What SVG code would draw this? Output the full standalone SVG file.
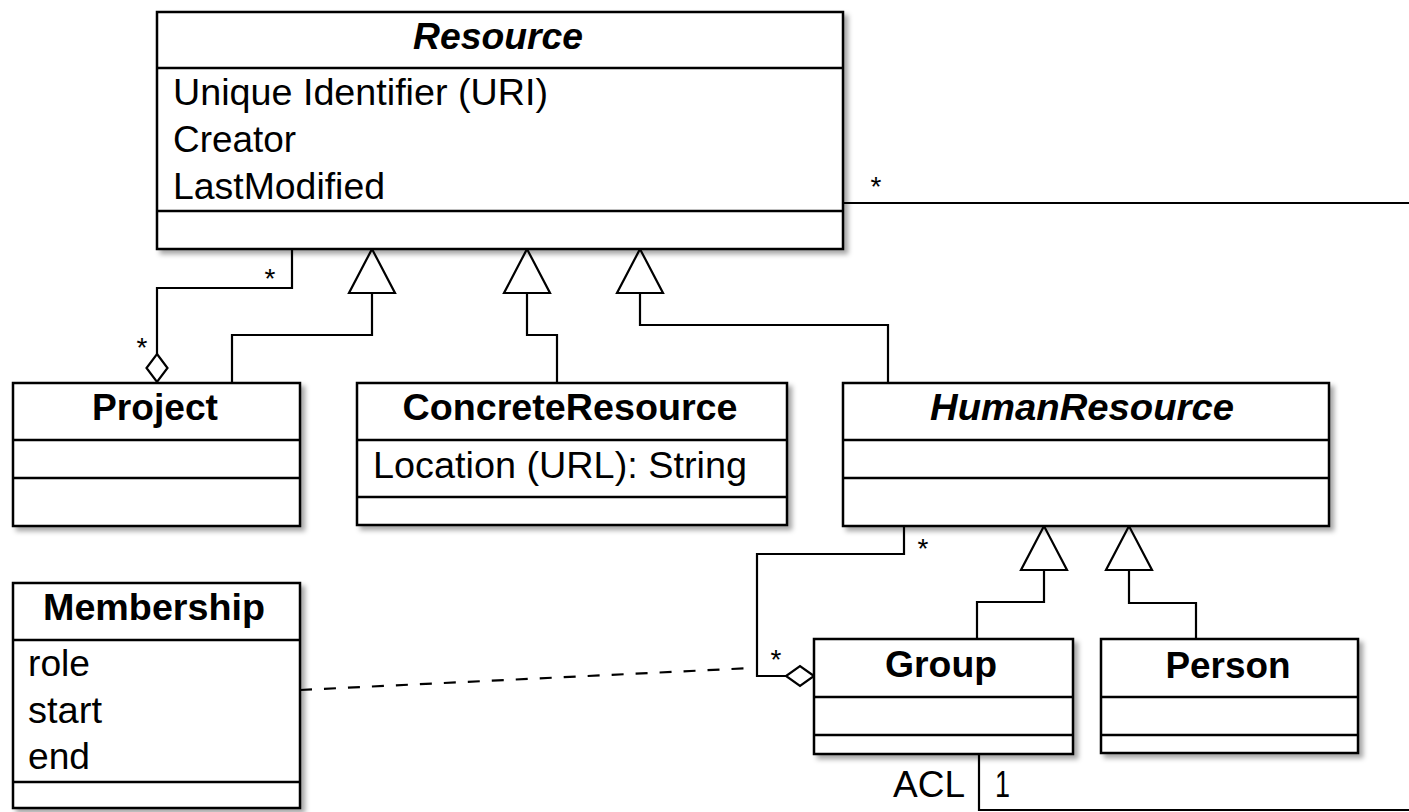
<svg xmlns="http://www.w3.org/2000/svg" width="1409" height="812" viewBox="0 0 1409 812">
<style>
.box{fill:#fff;stroke:#000;stroke-width:2.5}
.div{stroke:#000;stroke-width:2.5;fill:none}
.ln{fill:none;stroke:#000;stroke-width:2.2}
.tri{fill:#fff;stroke:#000;stroke-width:2.2;stroke-linejoin:miter}
.t{font-family:"Liberation Sans",Arial,Helvetica,sans-serif;font-size:36px;fill:#000}
.b{font-weight:bold}
.i{font-style:italic}
.c{text-anchor:middle}
.s{font-family:"Liberation Sans",Arial,sans-serif;font-size:28px;fill:#000;text-anchor:middle}
</style>
<defs>
<filter id="sh" x="-10%" y="-10%" width="130%" height="130%">
<feDropShadow dx="4" dy="4" stdDeviation="2.5" flood-color="#000" flood-opacity="0.35"/>
</filter>
</defs>
<rect width="1409" height="812" fill="#fff"/>

<g id="connectors">
<path class="ln" d="M292,249 V288 H157 V354"/>
<path class="ln" d="M232,383 V335 H372 V293"/>
<path class="ln" d="M557,383 V335 H527 V293"/>
<path class="ln" d="M888,383 V325 H640 V293"/>
<path class="ln" d="M904,526 V554 H757 V676 H786"/>
<path class="ln" d="M977,639 V602 H1044 V570"/>
<path class="ln" d="M1196,639 V603 H1129 V570"/>
<path class="ln" d="M843,203 H1409"/>
<path class="ln" d="M979,754 V810 H1409"/>
<path class="ln" d="M300,690 L752,668" stroke-dasharray="12 12"/>
<path class="tri" d="M372,249 L349,293 L395,293 Z"/>
<path class="tri" d="M527,249 L504,293 L550,293 Z"/>
<path class="tri" d="M640,249 L617,293 L663,293 Z"/>
<path class="tri" d="M1044,526 L1021,570 L1067,570 Z"/>
<path class="tri" d="M1129,526 L1106,570 L1152,570 Z"/>
<path class="tri" d="M157,354 L167.5,368 L157,382 L146.5,368 Z"/>
<path class="tri" d="M814,676 L800,666 L786,676 L800,686 Z"/>
<text class="s" x="270" y="288">*</text>
<text class="s" x="142" y="357">*</text>
<text class="s" x="876" y="196">*</text>
<text class="s" x="923" y="558">*</text>
<text class="s" x="776" y="669">*</text>
<text class="t" x="965" y="797" text-anchor="end" textLength="72" lengthAdjust="spacingAndGlyphs">ACL</text>
<text class="t" x="995" y="797" textLength="15" lengthAdjust="spacingAndGlyphs">1</text>
</g>

<g id="resource">
<rect class="box" x="157" y="12" width="686" height="237" filter="url(#sh)"/>
<path class="div" d="M157,68 H843 M157,211 H843"/>
<text class="t b i c" x="498" y="49" textLength="170" lengthAdjust="spacingAndGlyphs">Resource</text>
<text class="t" x="173" y="105" textLength="375" lengthAdjust="spacingAndGlyphs">Unique Identifier (URI)</text>
<text class="t" x="173" y="152" textLength="123" lengthAdjust="spacingAndGlyphs">Creator</text>
<text class="t" x="173" y="199" textLength="212" lengthAdjust="spacingAndGlyphs">LastModified</text>
</g>

<g id="project">
<rect class="box" x="13" y="383" width="287" height="143" filter="url(#sh)"/>
<path class="div" d="M13,440 H300 M13,478 H300"/>
<text class="t b c" x="155" y="420" textLength="126" lengthAdjust="spacingAndGlyphs">Project</text>
</g>

<g id="concreteresource">
<rect class="box" x="357" y="383" width="430" height="142" filter="url(#sh)"/>
<path class="div" d="M357,440 H787 M357,497 H787"/>
<text class="t b c" x="570" y="420" textLength="335" lengthAdjust="spacingAndGlyphs">ConcreteResource</text>
<text class="t" x="373" y="478" textLength="374" lengthAdjust="spacingAndGlyphs">Location (URL): String</text>
</g>

<g id="humanresource">
<rect class="box" x="843" y="383" width="486" height="143" filter="url(#sh)"/>
<path class="div" d="M843,440 H1329 M843,478 H1329"/>
<text class="t b i c" x="1082" y="420" textLength="304" lengthAdjust="spacingAndGlyphs">HumanResource</text>
</g>

<g id="membership">
<rect class="box" x="13" y="583" width="287" height="225" filter="url(#sh)"/>
<path class="div" d="M13,640 H300 M13,782 H300"/>
<text class="t b c" x="154" y="620" textLength="222" lengthAdjust="spacingAndGlyphs">Membership</text>
<text class="t" x="28" y="676" textLength="62" lengthAdjust="spacingAndGlyphs">role</text>
<text class="t" x="28" y="723" textLength="74" lengthAdjust="spacingAndGlyphs">start</text>
<text class="t" x="28" y="769" textLength="62" lengthAdjust="spacingAndGlyphs">end</text>
</g>

<g id="group">
<rect class="box" x="814" y="639" width="259" height="115" filter="url(#sh)"/>
<path class="div" d="M814,697 H1073 M814,735 H1073"/>
<text class="t b c" x="941" y="677" textLength="112" lengthAdjust="spacingAndGlyphs">Group</text>
</g>

<g id="person">
<rect class="box" x="1101" y="639" width="257" height="114" filter="url(#sh)"/>
<path class="div" d="M1101,697 H1358 M1101,735 H1358"/>
<text class="t b c" x="1228" y="678" textLength="125" lengthAdjust="spacingAndGlyphs">Person</text>
</g>
</svg>
